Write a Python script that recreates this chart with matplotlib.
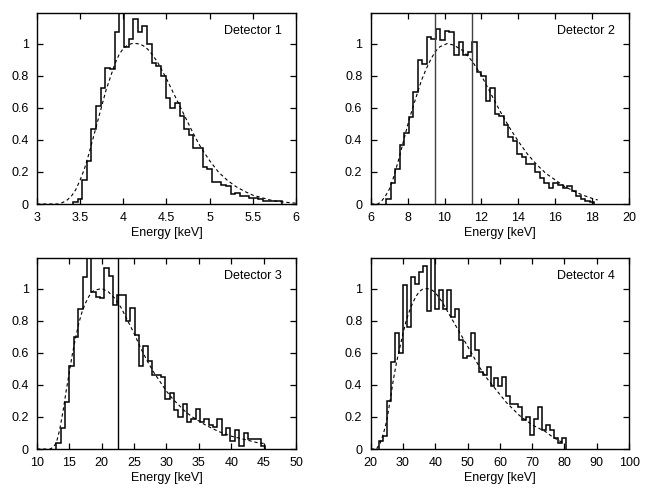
import numpy as np
import matplotlib
matplotlib.use('Agg')
import matplotlib.pyplot as plt
from matplotlib.ticker import FormatStrFormatter, MultipleLocator

plt.rcParams['font.family'] = ['Liberation Sans', 'DejaVu Sans']
plt.rcParams['font.size'] = 9

# Detector 1: histogram (first bin edge, bin width, normalised counts)
det1_start = 3.416
det1_width = 0.0537
det1_counts = [0.01, 0.03, 0.15, 0.27, 0.47, 0.61, 0.72, 0.85, 0.84, 1.07,
               1.19, 0.98, 1.03, 1.15, 1.07, 1.11, 1.00, 0.88, 0.86, 0.80,
               0.66, 0.60, 0.63, 0.55, 0.47, 0.43, 0.35, 0.35, 0.23, 0.22,
               0.14, 0.14, 0.12, 0.11, 0.06, 0.07, 0.05, 0.05, 0.04, 0.04,
               0.03, 0.02, 0.02, 0.02, 0.02]
det1_fit_x = [3.0, 3.25, 3.3, 3.35, 3.4, 3.45, 3.5, 3.55, 3.6, 3.65, 3.7,
              3.75, 3.8, 3.85, 3.9, 3.95, 4.0, 4.05, 4.1, 4.15, 4.2, 4.25,
              4.3, 4.35, 4.4, 4.45, 4.5, 4.6, 4.7, 4.8, 4.9, 5.0, 5.1, 5.2,
              5.3, 5.4, 5.5, 5.6, 5.7, 5.8, 5.9, 6.0]
det1_fit_y = [0.0, 0.0, 0.01, 0.025, 0.05, 0.09, 0.15, 0.22, 0.31, 0.41, 0.51,
              0.61, 0.71, 0.79, 0.87, 0.93, 0.97, 0.99, 1.0, 1.0, 0.995, 0.98,
              0.955, 0.92, 0.88, 0.83, 0.78, 0.67, 0.56, 0.45, 0.35, 0.27,
              0.20, 0.15, 0.11, 0.08, 0.055, 0.04, 0.025, 0.015, 0.01, 0.005]

# Detector 2
det2_start = 6.84
det2_width = 0.245
det2_counts = [0.03, 0.13, 0.22, 0.37, 0.44, 0.54, 0.70, 0.90, 0.87, 1.04,
               1.03, 1.09, 1.02, 1.08, 1.07, 0.93, 1.01, 0.93, 0.95, 1.01,
               0.82, 0.80, 0.64, 0.72, 0.56, 0.55, 0.49, 0.42, 0.39, 0.31,
               0.29, 0.25, 0.25, 0.20, 0.16, 0.13, 0.10, 0.13, 0.12, 0.10,
               0.11, 0.08, 0.05, 0.03, 0.02, 0.01]
det2_fit_x = [6.0, 6.4, 6.6, 6.8, 7.0, 7.25, 7.5, 7.75, 8.0, 8.25, 8.5, 8.75,
              9.0, 9.25, 9.5, 9.75, 10.15, 10.5, 11.0, 11.5, 12.0, 12.5, 13.0,
              13.5, 14.0, 14.5, 15.0, 15.5, 16.0, 16.5, 17.0, 17.5, 18.0, 18.3]
det2_fit_y = [0.0, 0.0, 0.02, 0.05, 0.09, 0.17, 0.27, 0.38, 0.49, 0.59, 0.68,
              0.77, 0.84, 0.90, 0.95, 0.98, 1.0, 0.99, 0.955, 0.89, 0.80, 0.69,
              0.58, 0.48, 0.39, 0.31, 0.245, 0.19, 0.15, 0.11, 0.08, 0.055,
              0.035, 0.025]
det2_marks = [9.5, 11.5]

# Detector 3
det3_start = 13.0
det3_width = 0.672
det3_counts = [0.04, 0.13, 0.29, 0.52, 0.70, 0.87, 1.07, 1.30, 0.98, 0.95,
               0.94, 1.13, 1.08, 0.90, 0.96, 0.96, 0.80, 0.88, 0.71, 0.52,
               0.64, 0.55, 0.46, 0.46, 0.45, 0.31, 0.35, 0.24, 0.20, 0.28,
               0.17, 0.19, 0.25, 0.17, 0.19, 0.15, 0.14, 0.19, 0.09, 0.13,
               0.05, 0.12, 0.02, 0.10, 0.06, 0.06, 0.06, 0.02]
det3_fit_x = [10.0, 12.0, 12.5, 13.0, 13.5, 14.0, 14.5, 15.0, 15.5, 16.0,
              16.5, 17.0, 17.5, 18.0, 18.5, 19.0, 20.0, 21.0, 22.0, 23.0,
              24.0, 25.0, 26.0, 27.0, 28.0, 29.0, 30.0, 31.0, 32.0, 33.0,
              34.0, 35.0, 36.0, 37.0, 38.0, 39.0, 40.0, 41.0, 42.0, 43.0,
              44.0, 45.0]
det3_fit_y = [0.0, 0.0, 0.01, 0.04, 0.12, 0.23, 0.36, 0.48, 0.60, 0.70, 0.79,
              0.86, 0.91, 0.95, 0.98, 0.99, 1.0, 0.98, 0.94, 0.88, 0.80, 0.72,
              0.63, 0.55, 0.48, 0.42, 0.36, 0.31, 0.27, 0.23, 0.20, 0.175,
              0.15, 0.13, 0.11, 0.095, 0.08, 0.07, 0.06, 0.05, 0.04, 0.035]
det3_marks = [22.5]

# Detector 4
det4_start = 22.6
det4_width = 1.232
det4_counts = [0.05, 0.08, 0.30, 0.54, 0.72, 0.60, 1.02, 0.76, 1.07, 1.03,
               1.10, 1.14, 0.86, 1.30, 0.87, 0.99, 0.87, 0.99, 0.82, 0.87,
               0.68, 0.57, 0.58, 0.72, 0.62, 0.48, 0.46, 0.51, 0.39, 0.44,
               0.39, 0.45, 0.33, 0.28, 0.28, 0.26, 0.18, 0.20, 0.09, 0.19,
               0.26, 0.12, 0.15, 0.12, 0.07, 0.04, 0.07]
det4_fit_x = [20.0, 21.8, 23, 24, 25, 26, 27, 28, 29, 30, 31, 32, 33, 34, 35,
              36, 37.5, 39, 40, 42, 44, 46, 48, 50, 52, 54, 56, 58, 60, 62,
              64, 66, 68, 70, 72, 74, 76, 78, 80]
det4_fit_y = [0.0, 0.0, 0.04, 0.10, 0.18, 0.30, 0.43, 0.54, 0.63, 0.72, 0.80,
              0.86, 0.91, 0.95, 0.98, 0.995, 1.0, 0.99, 0.975, 0.92, 0.85,
              0.78, 0.71, 0.64, 0.57, 0.50, 0.44, 0.39, 0.34, 0.29, 0.25,
              0.21, 0.18, 0.15, 0.13, 0.11, 0.08, 0.055, 0.035]

y_ticks = [0, 0.2, 0.4, 0.6, 0.8, 1.0]


def plot_detector(ax, start, width, counts, fit_x, fit_y, xlim, xstep,
                  label, marks=(), mark_color='black'):
    """Draw one detector panel in a gnuplot-like style."""
    edges = start + width * np.arange(len(counts) + 1)
    ax.stairs(counts, edges, baseline=0, color='black', lw=1.1)
    ax.plot(fit_x, fit_y, color='black', lw=0.8, ls=(0, (3, 2.5)))
    for m in marks:
        ax.axvline(m, color=mark_color, lw=1.0)

    ax.set_xlim(*xlim)
    ax.set_ylim(0, 1.19)
    ax.xaxis.set_major_locator(MultipleLocator(xstep))
    ax.set_yticks(y_ticks)
    ax.xaxis.set_major_formatter(FormatStrFormatter('%g'))
    ax.yaxis.set_major_formatter(FormatStrFormatter('%g'))
    ax.tick_params(direction='in', top=True, right=True, length=4.5,
                   width=0.9, labelsize=9)
    ax.tick_params(axis='x', pad=6)
    ax.tick_params(axis='y', pad=6)
    for sp in ax.spines.values():
        sp.set_linewidth(1.0)
    ax.set_xlabel('Energy [keV]', labelpad=2)
    ax.text(0.945, 0.905, label, transform=ax.transAxes,
            ha='right', va='center', fontsize=9)


fig = plt.figure(figsize=(6.5, 4.91), dpi=100)
ax1 = fig.add_axes([0.0569, 0.5845, 0.3985, 0.389])
ax2 = fig.add_axes([0.5703, 0.5845, 0.3975, 0.389])
ax3 = fig.add_axes([0.0569, 0.0855, 0.3985, 0.389])
ax4 = fig.add_axes([0.5703, 0.0855, 0.3975, 0.389])

plot_detector(ax1, det1_start, det1_width, det1_counts, det1_fit_x,
              det1_fit_y, (3, 6), 0.5, 'Detector 1')
plot_detector(ax2, det2_start, det2_width, det2_counts, det2_fit_x,
              det2_fit_y, (6, 20), 2, 'Detector 2', det2_marks, '#404040')
plot_detector(ax3, det3_start, det3_width, det3_counts, det3_fit_x,
              det3_fit_y, (10, 50), 5, 'Detector 3', det3_marks)
plot_detector(ax4, det4_start, det4_width, det4_counts, det4_fit_x,
              det4_fit_y, (20, 100), 10, 'Detector 4')

fig.savefig('out.png', dpi=100)
